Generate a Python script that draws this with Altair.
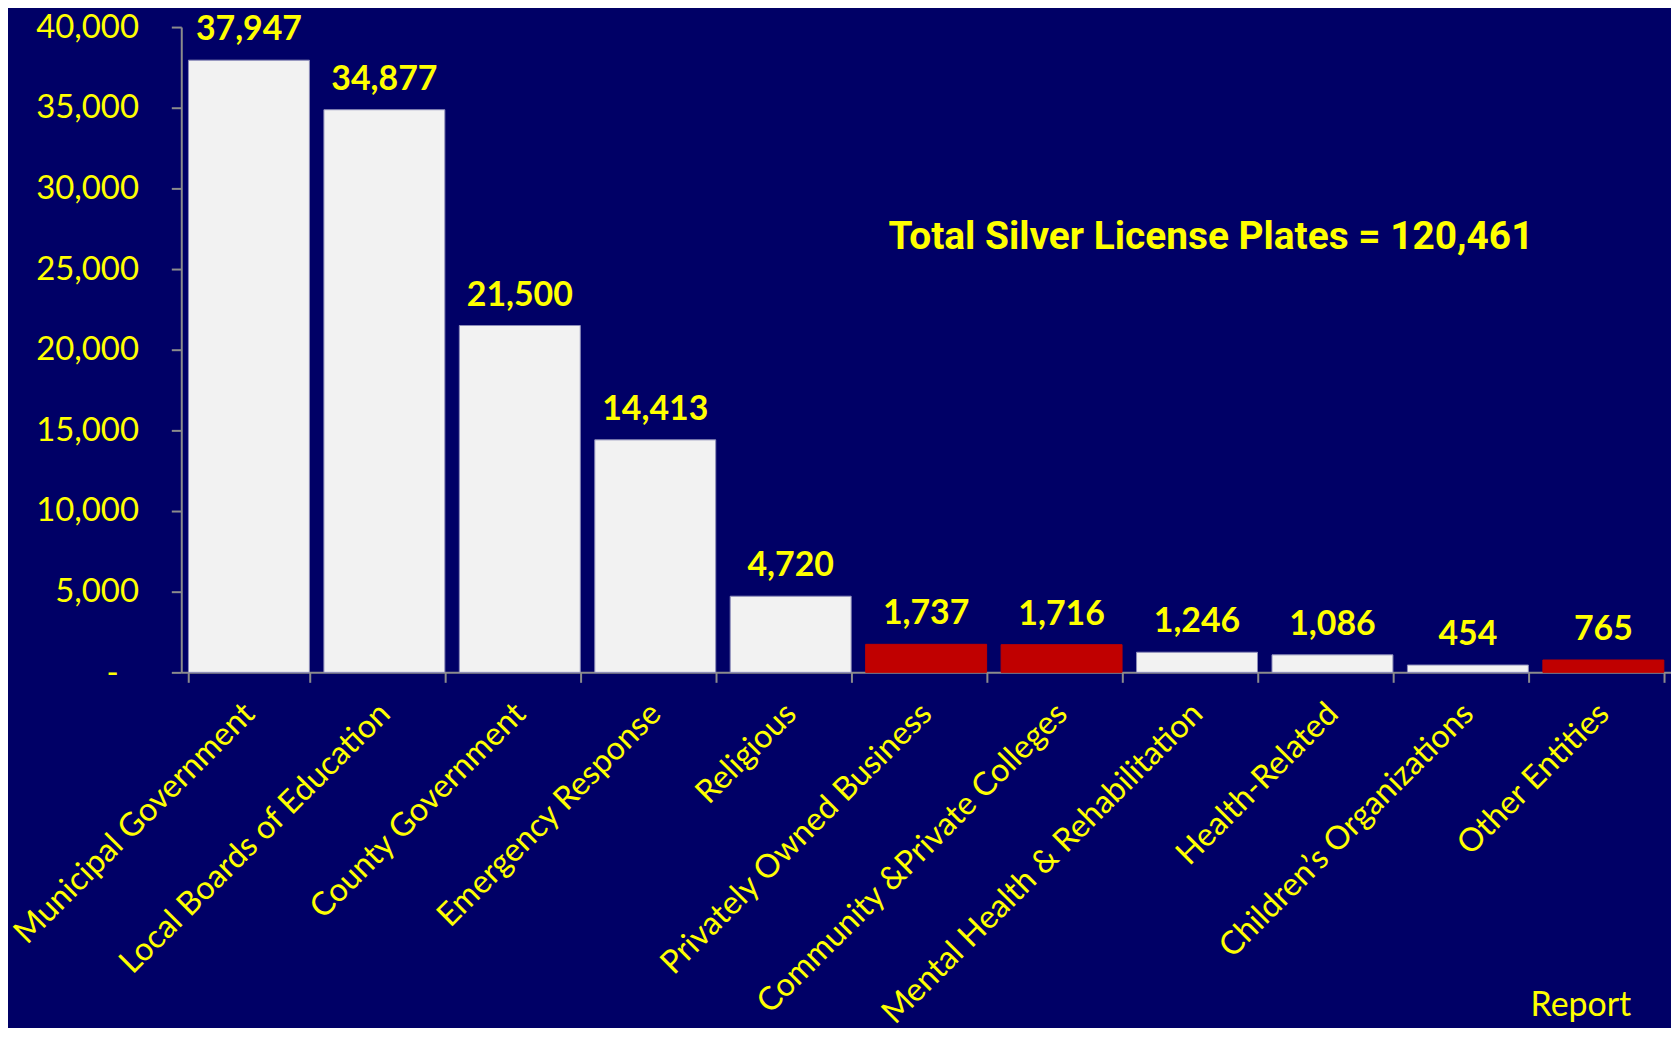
import altair as alt
import pandas as pd

categories = [
    "Municipal Government",
    "Local Boards of Education",
    "County Government",
    "Emergency Response",
    "Religious",
    "Privately Owned Business",
    "Community &Private Colleges",
    "Mental Health & Rehabilitation",
    "Health-Related",
    "Children\u2019s Organizations",
    "Other Entities",
]
values = [37947, 34877, 21500, 14413, 4720, 1737, 1716, 1246, 1086, 454, 765]
groups = ["public", "public", "public", "public", "public", "private", "private",
          "public", "public", "public", "private"]
y_ticks = [0, 5000, 10000, 15000, 20000, 25000, 30000, 35000, 40000]
zero_label = "-"
total_text = "Total Silver License Plates = 120,461"
footer_text = "Report"

BG = "#000066"
YELLOW = "#FFFF00"
GREY = "#8C8C8C"

df = pd.DataFrame({"category": categories, "value": values, "group": groups})

x_enc = alt.X(
    "category:N",
    sort=None,
    scale=alt.Scale(paddingInner=0.107, paddingOuter=0.053),
    axis=alt.Axis(
        title=None,
        labelAngle=-45,
        labelAlign="right",
        labelBaseline="middle",
        labelFont="Lato",
        labelFontSize=32.5,
        labelColor=YELLOW,
        labelPadding=26,
        tickBand="extent",
        tickSize=10,
        tickColor=GREY,
        tickWidth=2,
        domainColor=GREY,
        domainWidth=2,
        labelOverlap=False,
        labelLimit=0,
    ),
)

y_enc = alt.Y(
    "value:Q",
    scale=alt.Scale(domain=[0, 40000], nice=False),
    axis=alt.Axis(
        title=None,
        values=y_ticks,
        labelExpr="datum.value == 0 ? '' : format(datum.value, ',')",
        labelFont="Lato",
        labelFontSize=33,
        labelColor=YELLOW,
        labelPadding=33,
        tickSize=10,
        tickColor=GREY,
        tickWidth=2,
        domainColor=GREY,
        domainWidth=2,
        grid=False,
    ),
)

bars = alt.Chart(df).mark_bar(strokeWidth=1).encode(
    x=x_enc,
    y=y_enc,
    fill=alt.Fill("group:N", scale=alt.Scale(domain=["public", "private"],
                                             range=["#F2F2F2", "#C00000"]), legend=None),
    stroke=alt.Stroke("group:N", scale=alt.Scale(domain=["public", "private"],
                                                 range=["#8C8CB8", "#C00000"]), legend=None),
)

labels = alt.Chart(df).mark_text(
    font="Lato", fontSize=34, fontWeight="bold", color=YELLOW,
    baseline="alphabetic", dy=-20,
).encode(
    x=alt.X("category:N", sort=None),
    y="value:Q",
    text=alt.Text("value:Q", format=","),
)

zero = alt.Chart(pd.DataFrame({"v": [0], "t": [zero_label]})).mark_text(
    font="Lato", fontSize=33, color=YELLOW, align="center", baseline="middle", dy=2,
).encode(x=alt.value(-69), y="v:Q", text="t:N")

total = alt.Chart(pd.DataFrame({"t": [total_text]})).mark_text(
    font="Roboto", fontSize=39, fontWeight="bold", color=YELLOW,
    align="center", baseline="alphabetic",
).encode(x=alt.value(1034), y=alt.value(223), text="t:N")

footer = alt.Chart(pd.DataFrame({"t": [footer_text]})).mark_text(
    font="Lato", fontSize=34, color=YELLOW, align="left", baseline="bottom",
).encode(x=alt.value(1355), y=alt.value(1000), text="t:N")

chart = alt.layer(bars, labels, zero, total, footer).properties(
    width=1496,
    height=648,
    background=BG,
    padding={"left": 174, "top": 17, "right": 0, "bottom": 355},
    autosize=alt.AutoSizeParams(type="none"),
).configure_view(stroke=None)

chart.save("out.html", embed_options={"renderer": "svg", "actions": False})
